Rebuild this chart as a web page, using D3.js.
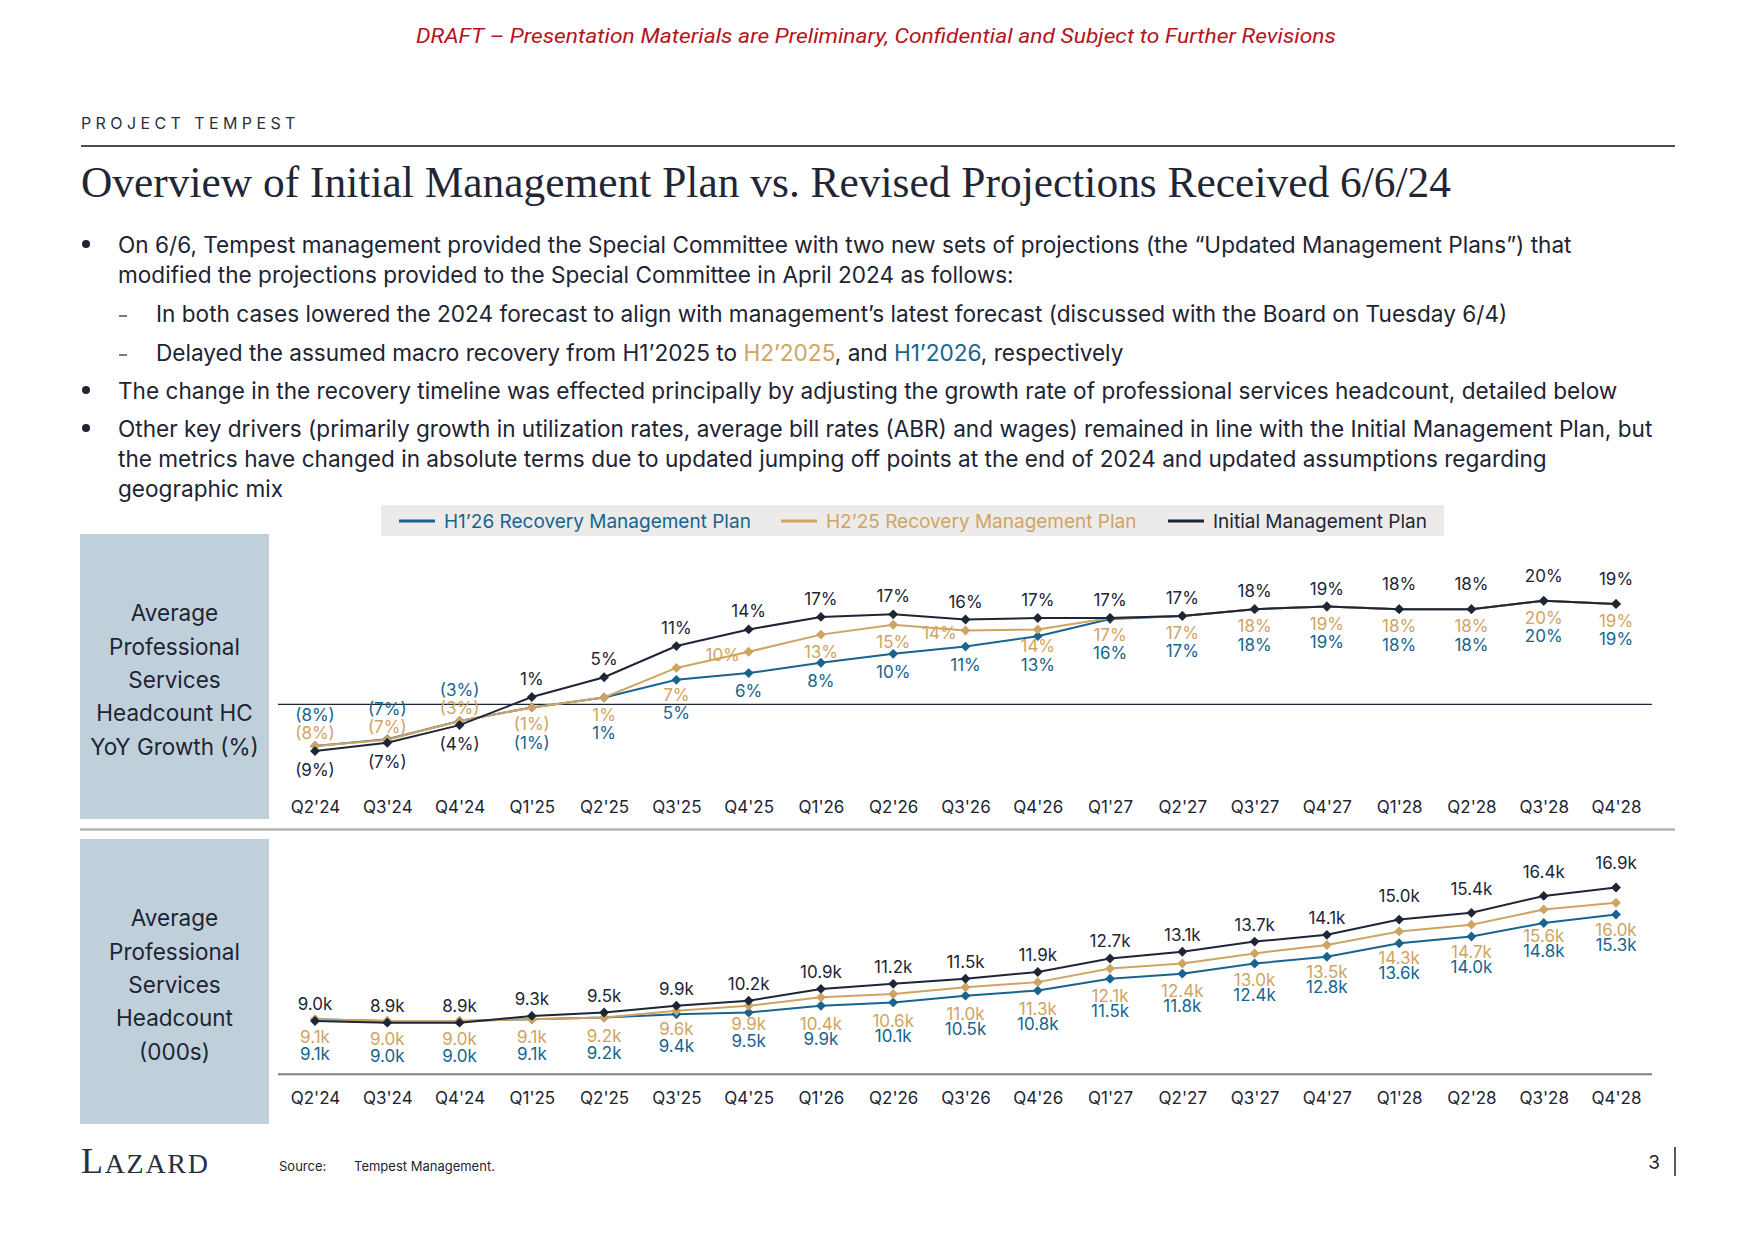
<!DOCTYPE html>
<html>
<head>
<meta charset="utf-8">
<script src="https://cdn.jsdelivr.net/npm/d3@7"></script>
<style>
  body { margin: 0; background: #fff; }
  svg text { font-family: Inter, "Noto Sans", sans-serif; }
</style>
</head>
<body>
<div id="viz"></div>
<script>
// ---- data ----
const quarters = ["Q2'24", "Q3'24", "Q4'24", "Q1'25", "Q2'25", "Q3'25", "Q4'25", "Q1'26", "Q2'26", "Q3'26",
                  "Q4'26", "Q1'27", "Q2'27", "Q3'27", "Q4'27", "Q1'28", "Q2'28", "Q3'28", "Q4'28"];

// YoY growth of professional services headcount (%)
const growthInitial = [-9.0, -7.4, -4.0, 1.4, 5.2, 11.2, 14.4, 16.8, 17.3, 16.3, 16.6, 16.6, 17.0, 18.3, 18.8, 18.3, 18.3, 19.9, 19.3];
const growthH2 = [-8.0, -6.8, -3.2, -0.6, 1.3, 7.0, 10.1, 13.4, 15.3, 14.2, 14.4, 16.6, 17.0, 18.3, 18.8, 18.3, 18.3, 19.9, 19.3];
const growthH1 = [-8.0, -6.7, -3.2, -0.6, 1.3, 4.7, 6.0, 8.0, 9.7, 11.1, 13.1, 16.4, 17.0, 18.3, 18.8, 18.3, 18.3, 19.9, 19.3];

// average professional services headcount (000s)
const hcInitial = [9.0, 8.9, 8.9, 9.3, 9.5, 9.9, 10.2, 10.9, 11.2, 11.5, 11.9, 12.7, 13.1, 13.7, 14.1, 15.0, 15.4, 16.4, 16.9];
const hcH2 = [9.1, 9.0, 9.0, 9.1, 9.2, 9.6, 9.9, 10.4, 10.6, 11.0, 11.3, 12.1, 12.4, 13.0, 13.5, 14.3, 14.7, 15.6, 16.0];
const hcH1 = [9.1, 9.0, 9.0, 9.1, 9.2, 9.4, 9.5, 9.9, 10.1, 10.5, 10.8, 11.5, 11.8, 12.4, 12.8, 13.6, 14.0, 14.8, 15.3];

const seriesNames = ["H1\u201926 Recovery Management Plan", "H2\u201925 Recovery Management Plan", "Initial Management Plan"];

const BLUE = "#17648f", GOLD = "#cfa463", NAVY = "#1e2537", TEXT = "#1d2433";

const svg = d3.select("#viz").append("svg")
    .attr("width", 1755)
    .attr("height", 1241);

// ---- header ----
svg.append("text")
    .attr("x", 876).attr("y", 36)
    .attr("text-anchor", "middle").attr("dominant-baseline", "central")
    .attr("textLength", 920).attr("lengthAdjust", "spacingAndGlyphs")
    .style("font-family", "Roboto").style("font-style", "italic")
    .style("font-size", "21px").attr("fill", "#b3151d")
    .text("DRAFT \u2013 Presentation Materials are Preliminary, Confidential and Subject to Further Revisions");

svg.append("text")
    .attr("x", 81).attr("y", 123)
    .attr("dominant-baseline", "central")
    .style("font-size", "16px").style("letter-spacing", "4.4px")
    .attr("fill", "#2b2f3a")
    .text("PROJECT TEMPEST");

svg.append("line")
    .attr("x1", 81).attr("x2", 1675).attr("y1", 146).attr("y2", 146)
    .attr("stroke", "#4a4c57").attr("stroke-width", 2);

svg.append("text")
    .attr("x", 81).attr("y", 197)
    .attr("textLength", 1370).attr("lengthAdjust", "spacingAndGlyphs")
    .style("font-family", "'Liberation Serif', serif").style("font-size", "45px")
    .attr("fill", "#1f2636")
    .text("Overview of Initial Management Plan vs. Revised Projections Received 6/6/24");

// ---- bullets ----
const bodyLines = [
    {y: 244, x: 118, mark: "dot", segs: [["On 6/6, Tempest management provided the Special Committee with two new sets of projections (the \u201cUpdated Management Plans\u201d) that"]]},
    {y: 274, x: 118, segs: [["modified the projections provided to the Special Committee in April 2024 as follows:"]]},
    {y: 313, x: 156, mark: "dash", segs: [["In both cases lowered the 2024 forecast to align with management\u2019s latest forecast (discussed with the Board on Tuesday 6/4)"]]},
    {y: 352, x: 156, mark: "dash", segs: [["Delayed the assumed macro recovery from H1\u20192025 to "], ["H2\u20192025", GOLD], [", and "], ["H1\u20192026", BLUE], [", respectively"]]},
    {y: 390, x: 118, mark: "dot", segs: [["The change in the recovery timeline was effected principally by adjusting the growth rate of professional services headcount, detailed below"]]},
    {y: 428, x: 118, mark: "dot", segs: [["Other key drivers (primarily growth in utilization rates, average bill rates (ABR) and wages) remained in line with the Initial Management Plan, but"]]},
    {y: 458, x: 118, segs: [["the metrics have changed in absolute terms due to updated jumping off points at the end of 2024 and updated assumptions regarding"]]},
    {y: 488, x: 118, segs: [["geographic mix"]]}
];

const body = svg.append("g").style("font-size", "22.6px").attr("fill", TEXT);
bodyLines.forEach(function(l) {
    if (l.mark === "dot") {
        body.append("circle").attr("cx", 86).attr("cy", l.y).attr("r", 4).attr("fill", TEXT);
    } else if (l.mark === "dash") {
        body.append("line").attr("x1", 119).attr("x2", 127).attr("y1", l.y + 3).attr("y2", l.y + 3)
            .attr("stroke", TEXT).attr("stroke-width", 1.2);
    }
    const t = body.append("text").attr("x", l.x).attr("y", l.y).attr("dominant-baseline", "central");
    l.segs.forEach(function(s) {
        t.append("tspan").attr("fill", s[1] || TEXT).text(s[0]);
    });
});

// ---- legend ----
const legend = svg.append("g");
legend.append("rect")
    .attr("x", 381).attr("y", 505).attr("width", 1063).attr("height", 31)
    .attr("fill", "#ecebea");
const legendX = [399, 781, 1168];
[BLUE, GOLD, NAVY].forEach(function(c, i) {
    legend.append("line")
        .attr("x1", legendX[i]).attr("x2", legendX[i] + 36)
        .attr("y1", 521).attr("y2", 521)
        .attr("stroke", c).attr("stroke-width", 3);
    legend.append("text")
        .attr("x", legendX[i] + 45).attr("y", 521)
        .attr("dominant-baseline", "central")
        .style("font-size", "19px").attr("fill", c)
        .text(seriesNames[i]);
});

// ---- side boxes + separator ----
function sideBox(y0, y1, lines) {
    svg.append("rect")
        .attr("x", 80).attr("y", y0).attr("width", 189).attr("height", y1 - y0)
        .attr("fill", "#c0d0db");
    const mid = (y0 + y1) / 2 + 3;
    lines.forEach(function(s, i) {
        svg.append("text")
            .attr("x", 174.5).attr("y", mid + (i - (lines.length - 1) / 2) * 33.4)
            .attr("text-anchor", "middle").attr("dominant-baseline", "central")
            .style("font-size", "22.5px").attr("fill", TEXT)
            .text(s);
    });
}
sideBox(534, 819, ["Average", "Professional", "Services", "Headcount HC", "YoY Growth (%)"]);
sideBox(839, 1124, ["Average", "Professional", "Services", "Headcount", "(000s)"]);

svg.append("line")
    .attr("x1", 80).attr("x2", 1675).attr("y1", 829.5).attr("y2", 829.5)
    .attr("stroke", "#b9b3ad").attr("stroke-width", 2.5);

// ---- chart panels ----
const x = d3.scalePoint().domain(quarters).range([315, 1616]);

function panel(cfg) {
    const g = svg.append("g");
    const y = d3.scaleLinear().domain(cfg.domain).range(cfg.range);

    g.append("line")
        .attr("x1", 278).attr("x2", 1652)
        .attr("y1", y(cfg.refValue)).attr("y2", y(cfg.refValue))
        .attr("stroke", cfg.refColor).attr("stroke-width", cfg.refWidth);

    const axis = g.append("g")
        .attr("transform", `translate(0, ${cfg.axisY})`)
        .call(d3.axisBottom(x).tickSize(0).tickPadding(0));
    axis.select(".domain").remove();
    axis.selectAll("text")
        .attr("y", 0).attr("dy", "0.35em")
        .style("font-family", "Inter, 'Noto Sans', sans-serif")
        .style("font-size", "17px").attr("fill", TEXT);

    const series = [
        {values: cfg.blue, color: BLUE},
        {values: cfg.gold, color: GOLD},
        {values: cfg.navy, color: NAVY}
    ];
    const line = d3.line()
        .x(function(d, i) { return x(quarters[i]); })
        .y(function(d) { return y(d); });
    const diamond = d3.symbol().type(d3.symbolDiamond2 || d3.symbolSquare).size(62);

    series.forEach(function(s) {
        g.append("path")
            .datum(s.values)
            .attr("fill", "none").attr("stroke", s.color).attr("stroke-width", 2)
            .attr("d", line);
        g.selectAll(null)
            .data(s.values)
            .enter()
            .append("path")
                .attr("d", diamond)
                .attr("fill", s.color)
                .attr("transform", function(d, i) { return `translate(${x(quarters[i])},${y(d)})`; });
    });

    // data labels, placed like the slide: initial plan above, revised plans stacked below
    quarters.forEach(function(q, i) {
        const pos = cfg.place(y(cfg.navy[i]), y(cfg.gold[i]), y(cfg.blue[i]), i);
        [[cfg.navy[i], NAVY, pos.navy, 0], [cfg.gold[i], GOLD, pos.gold, pos.goldDx || 0], [cfg.blue[i], BLUE, pos.blue, 0]].forEach(function(l) {
            g.append("text")
                .attr("x", x(q) + l[3]).attr("y", l[2])
                .attr("text-anchor", "middle").attr("dominant-baseline", "central")
                .style("font-size", "17px").attr("fill", l[1])
                .text(cfg.fmt(l[0]));
        });
    });
}

// labels of the last year sit a little higher on the slide
function navyOffset(i) { return quarters[i].slice(-2) === "28" ? -25 : -18; }

panel({
    navy: growthInitial, gold: growthH2, blue: growthH1,
    domain: [-10, 20], range: [756.3, 600.3],
    refValue: 0, refColor: NAVY, refWidth: 1.3,
    axisY: 807,
    fmt: function(v) { return v < 0 ? "(" + Math.round(-v) + "%)" : Math.round(v) + "%"; },
    place: function(b, go, bl, i) {
        if (growthInitial[i] < Math.min(growthH2[i], growthH1[i])) {
            const goldY = go - 13;
            return {navy: b + 19, gold: goldY, blue: goldY - 18};
        }
        const gap = bl - go;
        let goldY = go + 17, goldDx = 0;
        if (gap > 8 && gap < 14) {
            goldY = bl + 15;
        } else if (gap >= 14 && gap < 24) {
            goldY = go + 3; goldDx = -26;
        }
        return {navy: b + navyOffset(i), gold: goldY, goldDx: goldDx, blue: Math.max(bl + 18, goldY + 18.5)};
    }
});

panel({
    navy: hcInitial, gold: hcH2, blue: hcH1,
    domain: [6, 17], range: [1071.7, 885.8],
    refValue: 5.85, refColor: "#7d7f86", refWidth: 2,
    axisY: 1098,
    fmt: function(v) { return d3.format(".1f")(v) + "k"; },
    place: function(b, go, bl, i) {
        const close = go - b < 5.5;
        const goldY = close ? go + 18 : go + 27;
        return {navy: b + navyOffset(i) + 1, gold: goldY, blue: Math.max(bl + 27, goldY + (close ? 17 : 15))};
    }
});

// ---- footer ----
const logo = svg.append("text")
    .attr("x", 81).attr("y", 1173)
    .style("font-family", "'Liberation Serif', serif")
    .attr("fill", "#2a2f3d")
    .style("letter-spacing", "1.7px");
logo.append("tspan").style("font-size", "36px").text("L");
logo.append("tspan").style("font-size", "28px").text("AZARD");

svg.append("text")
    .attr("x", 279).attr("y", 1166).attr("dominant-baseline", "central")
    .style("font-size", "13px").attr("fill", TEXT).text("Source:");
svg.append("text")
    .attr("x", 354).attr("y", 1166).attr("dominant-baseline", "central")
    .style("font-size", "13px").attr("fill", TEXT).text("Tempest Management.");

svg.append("text")
    .attr("x", 1660).attr("y", 1162).attr("text-anchor", "end").attr("dominant-baseline", "central")
    .style("font-size", "19px").attr("fill", TEXT).text("3");
svg.append("line")
    .attr("x1", 1675).attr("x2", 1675).attr("y1", 1147).attr("y2", 1176)
    .attr("stroke", TEXT).attr("stroke-width", 1.5);
</script>
</body>
</html>
